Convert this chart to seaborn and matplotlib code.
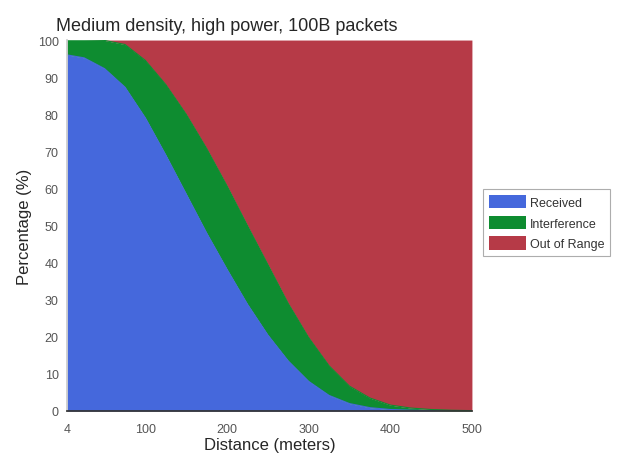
import numpy as np
import pandas as pd
import matplotlib
matplotlib.use("Agg")
import matplotlib.pyplot as plt
import seaborn as sns

# distance (meters) and stacked shares (%)
distance = [4, 25, 50, 75, 100, 125, 150, 175, 200, 225, 250, 275, 300,
            325, 350, 375, 400, 425, 450, 475, 500]
received = [96, 95.2, 92.3, 87.3, 79, 69, 58.5, 48, 38.2, 28.8, 20.5, 13.5, 8,
            4.2, 2, 0.9, 0.4, 0.2, 0.1, 0, 0]
recv_plus_interf = [100, 100, 99.9, 98.8, 94.5, 88, 80, 70.8, 60.7, 50, 39.5, 29, 19.8,
                    12.2, 6.7, 3.5, 1.6, 0.8, 0.4, 0.2, 0.1]

interference = [t - r for t, r in zip(recv_plus_interf, received)]
out_of_range = [100 - t for t in recv_plus_interf]

df = pd.DataFrame({"Distance": distance, "Received": received,
                   "Interference": interference, "Out of Range": out_of_range})

sns.set_theme(style="white")
plt.rcParams['font.family'] = ['Liberation Sans', 'DejaVu Sans']

colors = ["#4568dc", "#0e8c30", "#b63a47"]
labels = ["Received", "Interference", "Out of Range"]

fig = plt.figure(figsize=(6.23, 4.56), dpi=100)
ax = fig.add_axes([0.1075, 0.0965, 0.65, 0.8135])

ax.stackplot(df["Distance"], df["Received"], df["Interference"], df["Out of Range"],
             colors=colors, labels=labels, linewidth=0)
# boundaries drawn with seaborn so edges stay crisp
sns.lineplot(x=df["Distance"], y=df["Received"], color=colors[0], linewidth=0.8,
             ax=ax, legend=False)
sns.lineplot(x=df["Distance"], y=df["Received"] + df["Interference"], color=colors[1],
             linewidth=0.8, ax=ax, legend=False)

ax.set_xlim(4, 500)
ax.set_ylim(0, 100)
ax.set_xticks([4, 100, 200, 300, 400, 500])
ax.set_yticks(np.arange(0, 101, 10))
ax.tick_params(axis='both', labelsize=9, labelcolor='#555555', length=0, pad=6)
ax.tick_params(axis='x', pad=9)
ax.set_xlabel("Distance (meters)", fontsize=12, labelpad=1)
ax.set_ylabel("Percentage (%)", fontsize=12, labelpad=4)
ax.set_title("Medium density, high power, 100B packets", fontsize=13, x=0.395, pad=7)

for side in ["top", "right"]:
    ax.spines[side].set_visible(False)
ax.spines["left"].set_color("#cccccc")
ax.spines["bottom"].set_color("#333333")

handles, labs = ax.get_legend_handles_labels()
leg = fig.legend(handles[:3], labs[:3], loc="upper left",
                 bbox_to_anchor=(483 / 623, 1 - 190 / 456), fontsize=9,
                 frameon=True, fancybox=False, handlelength=3.0, handleheight=1.3,
                 handletextpad=0.3, borderpad=0.45, labelspacing=0.55,
                 borderaxespad=0)
leg.get_frame().set_edgecolor("#999999")
leg.get_frame().set_linewidth(0.8)
for t in leg.get_texts():
    t.set_color("#333333")

fig.savefig("out.png", dpi=100)
